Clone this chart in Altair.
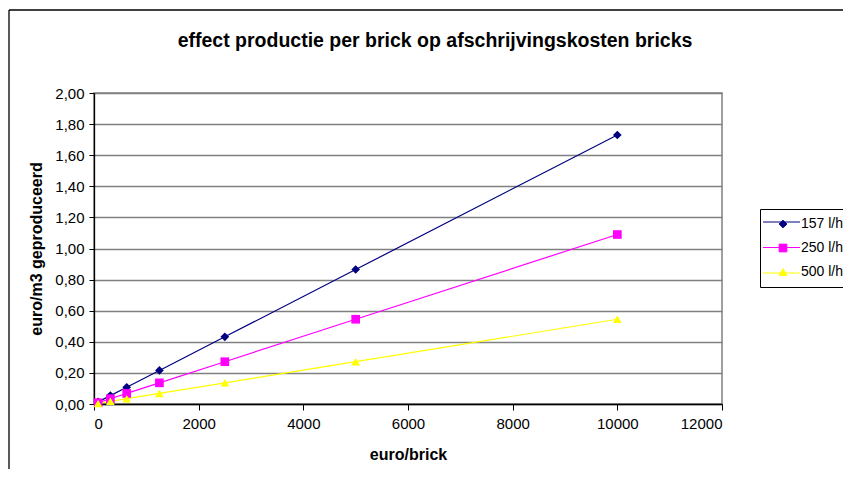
import altair as alt
import pandas as pd

x_vals = [78, 313, 625, 1250, 2500, 5000, 10000]
s157 = [0.0135, 0.054, 0.108, 0.216, 0.432, 0.865, 1.73]
s250 = [0.0085, 0.034, 0.068, 0.136, 0.272, 0.545, 1.09]
s500 = [0.004, 0.017, 0.034, 0.068, 0.136, 0.272, 0.545]
series = ["157 l/h", "250 l/h", "500 l/h"]
colors = ["#000080", "#FF00FF", "#FFFF00"]
shapes = ["diamond", "square", "triangle-up"]
y_ticks = [0.0, 0.2, 0.4, 0.6, 0.8, 1.0, 1.2, 1.4, 1.6, 1.8, 2.0]
x_ticks = [0, 2000, 4000, 6000, 8000, 10000, 12000]

rows = []
for name, vals in zip(series, [s157, s250, s500]):
    for x, y in zip(x_vals, vals):
        rows.append({"x": x, "y": y, "serie": name})
df = pd.DataFrame(rows)

W, H = 628, 311
FONT = "Liberation Sans"

xenc = alt.X("x:Q", scale=alt.Scale(domain=[0, 12000], nice=False),
             axis=alt.Axis(values=x_ticks, format="d", labelOverlap=False,
                           title="euro/brick", grid=False, tickSize=6,
                           labelPadding=6, titlePadding=15))
yenc = alt.Y("y:Q", scale=alt.Scale(domain=[0, 2], nice=False),
             axis=alt.Axis(values=y_ticks, labelOverlap=False,
                           labelExpr="replace(format(datum.value, '.2f'), '.', ',')",
                           title="euro/m3 geproduceerd", grid=True, tickSize=5,
                           labelPadding=5, titlePadding=10))
cscale = alt.Scale(domain=series, range=colors)
sscale = alt.Scale(domain=series, range=shapes)

leg = alt.Legend(title=None, orient="none", legendX=666, legendY=116,
                 strokeColor="black", padding=8, rowPadding=10,
                 labelFontSize=14, labelFont=FONT, labelColor="black",
                 symbolSize=60, symbolOffset=8, labelOffset=11,
                 symbolStrokeWidth=1)

lines = alt.Chart(df).mark_line(strokeWidth=1.2).encode(
    x=xenc, y=yenc, color=alt.Color("serie:N", scale=cscale, legend=leg))
points = alt.Chart(df).mark_point(filled=True, size=75, opacity=1).encode(
    x=xenc, y=yenc,
    color=alt.Color("serie:N", scale=cscale, legend=leg),
    shape=alt.Shape("serie:N", scale=sscale, legend=leg))

fr = pd.DataFrame({"a": [0]})
edge = dict(stroke="black", strokeWidth=1.3)
top = alt.Chart(fr).mark_rule(**edge).encode(x=alt.value(-85), x2=alt.value(760), y=alt.value(-83))
left = alt.Chart(fr).mark_rule(**edge).encode(x=alt.value(-85), y=alt.value(-83), y2=alt.value(400))

# line strokes behind the legend symbols (legend decoration)
leg_lines = [
    alt.Chart(fr).mark_rule(stroke=c, strokeWidth=1.2).encode(
        x=alt.value(669), x2=alt.value(706), y=alt.value(yy))
    for c, yy in zip(colors, [129, 154.5, 180])
]

chart = alt.layer(top, left, *leg_lines, lines, points).properties(
    width=W, height=H,
    title=alt.TitleParams("effect productie per brick op afschrijvingskosten bricks",
                          fontSize=19.5, font=FONT, fontWeight="bold",
                          anchor="middle", offset=-42, dx=27, color="black"),
    autosize=alt.AutoSizeParams(type="none"),
    padding={"left": 86, "top": 85, "right": 121, "bottom": 65},
).configure_view(
    stroke="#808080", strokeWidth=1.5
).configure_axis(
    labelFont=FONT, titleFont=FONT, labelFontSize=15,
    titleFontSize=16, titleFontWeight="bold", labelColor="black", titleColor="black",
    domainColor="black", tickColor="black", gridColor="#808080", gridWidth=1.3,
    domainWidth=1.3
)

chart.save("out.html", embed_options={"renderer": "svg", "actions": False})
